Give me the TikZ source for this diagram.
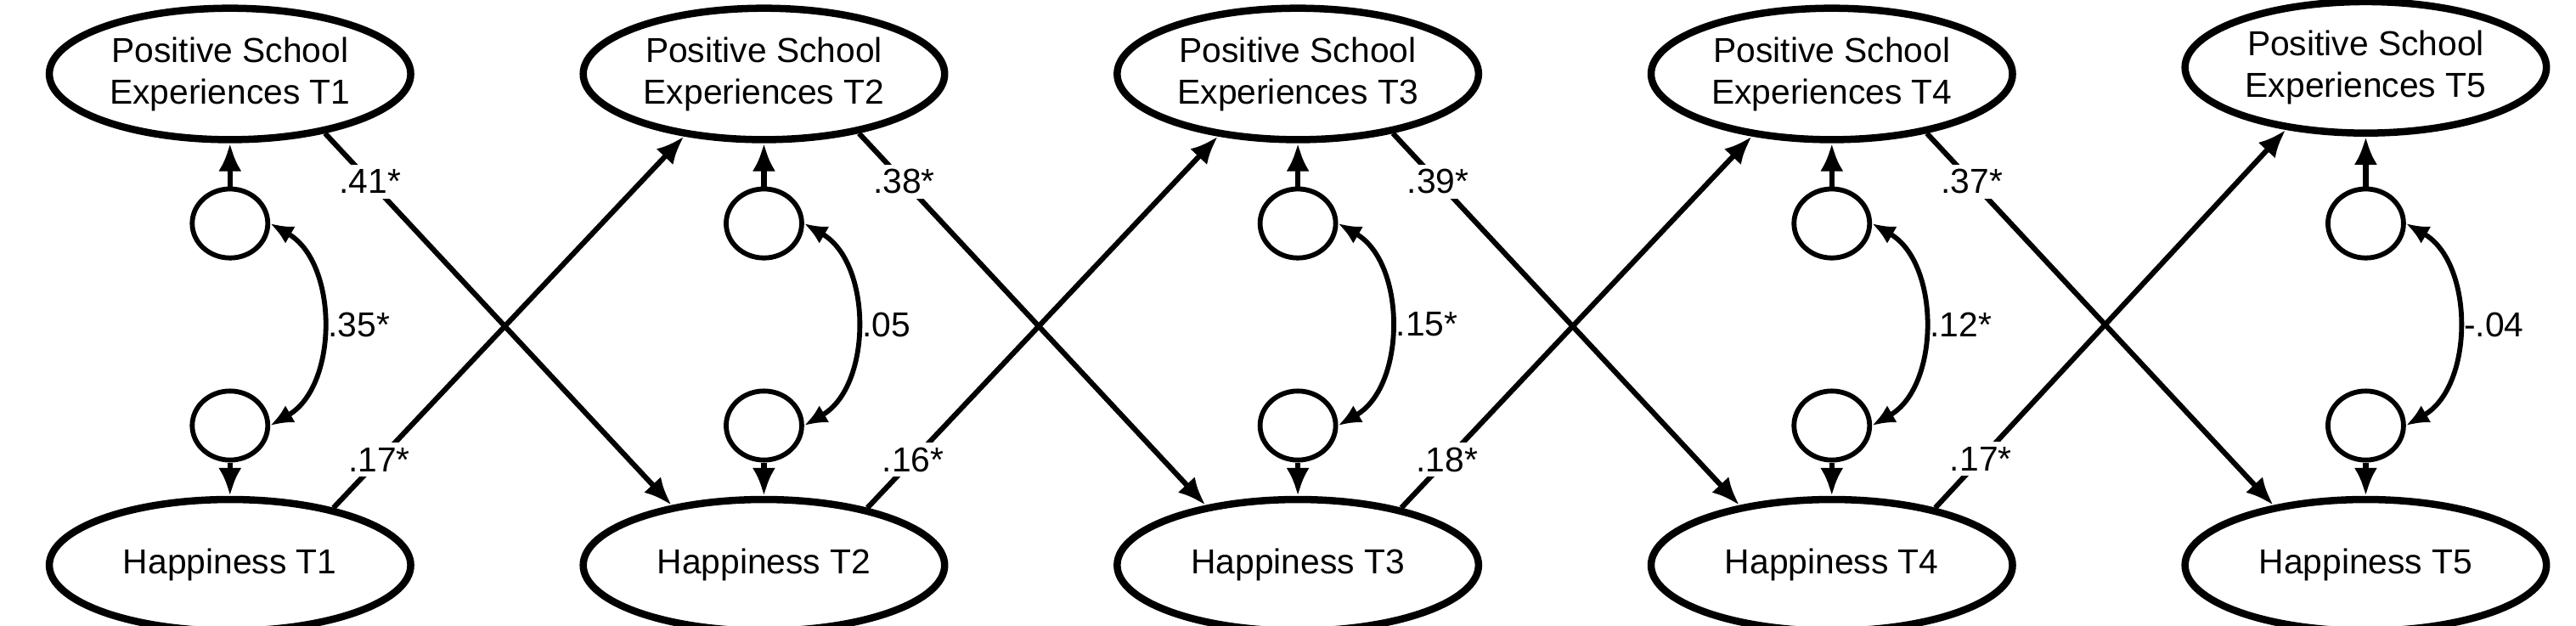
\documentclass[tikz,border=0pt]{standalone}
\usepackage{fontspec}
\setmainfont{Liberation Sans}
\usetikzlibrary{shapes.geometric,arrows.meta}
\begin{document}
\begin{tikzpicture}[x=0.05cm,y=-0.05cm,
  big/.style={ellipse,draw,line width=0.22cm,minimum width=11cm,minimum height=4cm,inner sep=0,align=center,font=\fontsize{30}{36}\selectfont},
  sm/.style={ellipse,draw,line width=0.15cm,minimum width=2.3cm,minimum height=2.1cm,inner sep=0},
  arr/.style={line width=0.16cm,-{Latex[length=0.85cm,width=0.7cm]}},
  dbl/.style={line width=0.15cm,{Latex[length=0.7cm,width=0.6cm]}-{Latex[length=0.7cm,width=0.6cm]}},
  lab/.style={fill=white,inner sep=0.15cm,font=\fontsize{30}{36}\selectfont}]
\useasboundingbox (0,0) rectangle (1568,381);
\foreach \i/\x in {1/140,2/465,3/790,4/1115,5/1440}{
  \ifnum\i=5
    \node[big] (p\i) at (\x,41) {Positive School\\Experiences T\i};
  \else
    \node[big] (p\i) at (\x,45) {Positive School\\Experiences T\i};
  \fi
  \node[big] (h\i) at (\x,344) {Happiness T\i};
  \node[sm] (u\i) at (\x,136) {};
  \node[sm] (l\i) at (\x,259) {};
  \draw[arr] (u\i) -- (p\i);
  \draw[arr] (l\i) -- (h\i);
  \draw[dbl] (u\i.east) to[bend left=60] coordinate[pos=0.5] (m\i) (l\i.east);
}
\foreach \i/\v in {1/.35*,2/.05,3/.15*,4/.12*,5/-.04}{
  \node[anchor=west,font=\fontsize{30}{36}\selectfont,inner sep=0.1cm] (c\i) at ([xshift=0.1cm]m\i) {\v};
}
\foreach \i/\j/\a/\b in {1/2/.41*/.17*,2/3/.38*/.16*,3/4/.39*/.18*,4/5/.37*/.17*}{
  \draw[arr] (p\i.-32) -- node[lab,pos=0.13] (a\i) {\a} (h\j.147);
  \draw[arr] (h\i.29) -- node[lab,pos=0.13] (b\i) {\b} (p\j.-142);
}
\end{tikzpicture}
\end{document}
